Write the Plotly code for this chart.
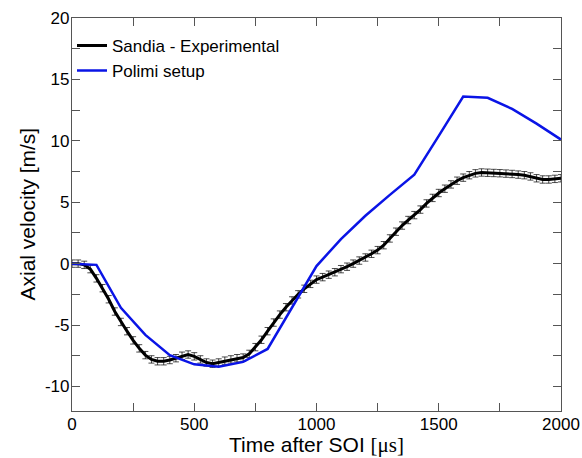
import plotly.graph_objects as go

# Sandia experimental (every 25 us)
exp_t = [0, 25, 50, 75, 100, 125, 150, 175, 200, 225, 250, 275, 300, 325, 350, 375, 400,
         425, 450, 475, 500, 525, 550, 575, 600, 625, 650, 675, 700, 725, 750, 775, 800,
         825, 850, 875, 900, 925, 950, 975, 1000, 1025, 1050, 1075, 1100, 1125, 1150, 1175, 1200,
         1225, 1250, 1275, 1300, 1325, 1350, 1375, 1400, 1425, 1450, 1475, 1500, 1525, 1550, 1575, 1600,
         1625, 1650, 1675, 1700, 1725, 1750, 1775, 1800, 1825, 1850, 1875, 1900, 1925, 1950, 1975, 2000]
exp_v = [0.0, 0.0, -0.1, -0.45, -1.2, -2.0, -2.9, -3.9, -4.75, -5.5, -6.25, -6.9, -7.45, -7.8, -7.95, -7.95, -7.85,
         -7.7, -7.5, -7.4, -7.55, -7.8, -8.05, -8.15, -8.05, -7.9, -7.8, -7.7, -7.65, -7.35, -6.8, -6.2, -5.5,
         -4.8, -4.15, -3.55, -3.0, -2.5, -2.05, -1.65, -1.3, -1.1, -0.9, -0.7, -0.45, -0.25, 0.0, 0.25, 0.5,
         0.8, 1.1, 1.5, 2.05, 2.6, 3.1, 3.55, 3.95, 4.4, 4.9, 5.35, 5.75, 6.1, 6.45, 6.75, 7.0,
         7.2, 7.35, 7.42, 7.4, 7.38, 7.36, 7.33, 7.3, 7.25, 7.2, 7.1, 6.95, 6.85, 6.85, 6.9, 6.95]
exp_err = 0.3

# Polimi setup
sim_t = [0, 100, 200, 300, 400, 500, 600, 700, 800, 900, 1000, 1100, 1200, 1300, 1400,
         1500, 1600, 1700, 1800, 1900, 2000]
sim_v = [0.0, -0.1, -3.6, -5.8, -7.45, -8.2, -8.4, -8.0, -6.95, -3.6, -0.2, 2.0, 3.9, 5.6, 7.25,
         10.4, 13.6, 13.5, 12.6, 11.4, 10.1]

x_ticks = [0, 500, 1000, 1500, 2000]
x_labels = ["0", "500", "1000", "1500", "2000"]
y_ticks = [-10, -5, 0, 5, 10, 15, 20]
y_labels = ["-10", "-5", "0", "5", "10", "15", "20"]

FONT = "Liberation Sans, Arial, sans-serif"

fig = go.Figure()
fig.add_trace(go.Scatter(
    x=exp_t, y=exp_v, mode="lines", name="Sandia - Experimental",
    line=dict(color="black", width=3),
    error_y=dict(type="constant", value=exp_err, color="rgba(0,0,0,0.7)", thickness=1, width=3),
))
fig.add_trace(go.Scatter(
    x=sim_t, y=sim_v, mode="lines", name="Polimi setup",
    line=dict(color="#0a14e6", width=2.5),
))

axis_common = dict(
    showline=True, linecolor="#555555", linewidth=1.2, mirror="ticks",
    ticks="inside", ticklen=8, tickcolor="#555555", tickwidth=1,
    showgrid=False, zeroline=False, automargin=False,
    tickfont=dict(family=FONT, size=17, color="black"),
)

fig.update_xaxes(
    range=[0, 2000], tickmode="array", tickvals=x_ticks, ticktext=x_labels,
    minor=dict(ticks="inside", ticklen=8, tickcolor="#555555", dtick=250, tick0=0, showgrid=False),
    ticklabelstandoff=-3,
    **axis_common,
)
fig.update_yaxes(
    range=[-12, 20], tickmode="array", tickvals=y_ticks, ticktext=y_labels,
    minor=dict(ticks="inside", ticklen=8, tickcolor="#555555", dtick=2.5, tick0=0, showgrid=False),
    ticklabelstandoff=-2,
    **axis_common,
)

fig.add_annotation(
    text='Time after SOI <span style="font-family:Liberation Serif">[μs]</span>',
    xref="paper", yref="paper", x=0.5, y=-(445 - 411) / 393, xanchor="center", yanchor="middle",
    showarrow=False, font=dict(family=FONT, size=21, color="black"),
)
fig.add_annotation(
    text="Axial velocity [m/s]",
    xref="paper", yref="paper", x=-(72 - 27) / 489, y=0.5, xanchor="center", yanchor="middle",
    textangle=-90, showarrow=False, font=dict(family=FONT, size=21, color="black"),
)

fig.update_layout(
    width=582, height=458,
    margin=dict(l=72, r=21, t=18, b=47),
    paper_bgcolor="white", plot_bgcolor="white",
    legend=dict(x=0.0, y=0.975, xanchor="left", yanchor="top",
                font=dict(family=FONT, size=17, color="black"),
                bgcolor="rgba(0,0,0,0)", tracegroupgap=0),
    showlegend=True,
)

fig.write_html("out.html")
